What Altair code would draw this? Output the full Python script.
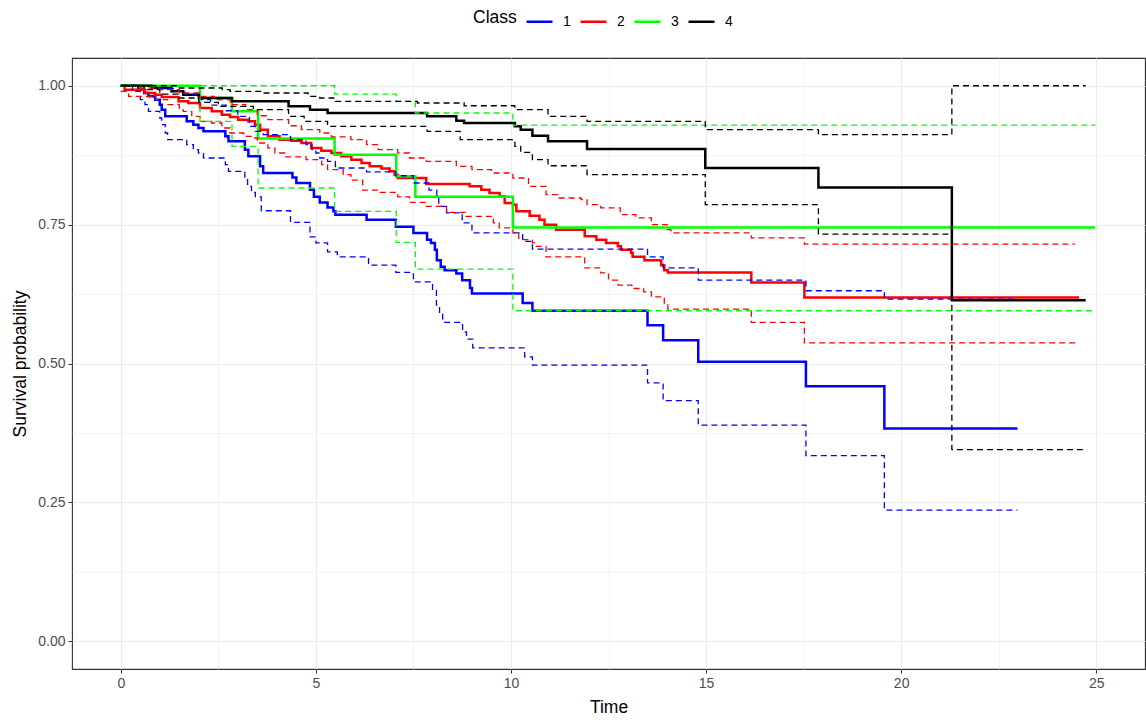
import altair as alt
import pandas as pd

CLASSES = ["1", "2", "3", "4"]
COLORS = ["#0000FF", "#FF0000", "#00FF00", "#000000"]

# ---- Class 1 ----
c1_est_t = [0, 0.45, 0.6, 0.71, 0.88, 1.0, 1.05, 1.14, 1.69, 1.86, 1.99, 2.12, 2.68, 2.76, 3.18, 3.27,
            3.57, 3.65, 4.4, 4.5, 4.85, 4.95, 5.1, 5.3, 5.45, 5.5, 6.3, 7.05, 7.5, 7.85, 7.95, 8.05,
            8.1, 8.2, 8.3, 8.6, 8.75, 8.95, 9.0, 10.3, 10.55, 13.5, 13.9, 14.8, 17.56, 19.57, 22.98]
c1_est_s = [1.0, 0.993, 0.987, 0.981, 0.975, 0.966, 0.957, 0.945, 0.936, 0.930, 0.924, 0.918, 0.909, 0.900,
            0.885, 0.873, 0.855, 0.843, 0.835, 0.825, 0.813, 0.800, 0.790, 0.781, 0.774, 0.768, 0.759,
            0.746, 0.735, 0.723, 0.717, 0.705, 0.686, 0.674, 0.668, 0.662, 0.650, 0.636, 0.626, 0.609,
            0.595, 0.569, 0.542, 0.503, 0.459, 0.383, 0.383]
c1_lo_t = [0, 0.3, 0.5, 0.62, 0.71, 1.0, 1.05, 1.14, 1.2, 1.69, 1.86, 1.99, 2.12, 2.68, 2.76, 3.18, 3.25,
           3.35, 3.45, 3.6, 4.35, 4.85, 5.0, 5.3, 5.55, 6.35, 7.05, 7.5, 7.99, 8.09, 8.17, 8.25, 8.76,
           8.86, 9.02, 10.35, 10.55, 13.5, 13.9, 14.8, 17.56, 19.57, 22.98]
c1_lo_s = [1.0, 0.99, 0.975, 0.966, 0.954, 0.942, 0.930, 0.915, 0.903, 0.894, 0.885, 0.879, 0.870, 0.858,
           0.846, 0.831, 0.819, 0.808, 0.800, 0.775, 0.754, 0.728, 0.717, 0.701, 0.692, 0.677, 0.664,
           0.647, 0.632, 0.605, 0.589, 0.574, 0.557, 0.544, 0.528, 0.512, 0.497, 0.465, 0.433, 0.389,
           0.334, 0.236, 0.236]
c1_hi_t = [0, 1.0, 1.4, 1.65, 2.0, 2.3, 2.7, 3.0, 3.3, 3.45, 3.65, 4.35, 4.75, 4.9, 5.0, 5.1, 5.3, 5.5,
           6.3, 7.05, 7.5, 7.9, 8.1, 8.15, 8.35, 8.75, 9.0, 10.3, 10.55, 13.5, 13.9, 14.8, 17.56, 19.57, 22.98]
c1_hi_s = [1.0, 0.995, 0.99, 0.985, 0.975, 0.965, 0.955, 0.945, 0.927, 0.918, 0.912, 0.903, 0.894, 0.885,
           0.879, 0.870, 0.864, 0.852, 0.845, 0.838, 0.825, 0.812, 0.800, 0.783, 0.771, 0.753, 0.735,
           0.720, 0.706, 0.692, 0.672, 0.650, 0.631, 0.616, 0.616]

# ---- Class 2 ----
c2_est_t = [0, 0.1, 0.62, 0.88, 1.05, 1.48, 1.73, 2.03, 2.33, 2.59, 2.8, 3.01, 3.27, 3.44, 3.57, 3.77,
            4.07, 4.37, 4.63, 4.88, 5.14, 5.4, 5.65, 5.91, 6.17, 6.38, 6.68, 6.89, 7.02, 7.1, 7.83, 8.94,
            9.24, 9.45, 9.71, 9.84, 10.05, 10.14, 10.48, 10.73, 10.86, 11.16, 11.89, 12.19, 12.44, 12.74,
            12.82, 13.08, 13.12, 13.42, 13.85, 13.93, 14.02, 16.16, 17.52, 24.56]
c2_est_s = [1.0, 0.993, 0.987, 0.984, 0.980, 0.972, 0.969, 0.960, 0.954, 0.948, 0.944, 0.939, 0.936, 0.930,
            0.921, 0.909, 0.903, 0.901, 0.897, 0.888, 0.883, 0.879, 0.873, 0.867, 0.861, 0.855, 0.851,
            0.846, 0.840, 0.834, 0.823, 0.819, 0.813, 0.807, 0.801, 0.789, 0.786, 0.774, 0.766, 0.759,
            0.750, 0.741, 0.729, 0.723, 0.717, 0.711, 0.705, 0.699, 0.692, 0.686, 0.677, 0.668, 0.664,
            0.646, 0.619, 0.619]
c2_lo_t = [0, 0.2, 0.9, 1.2, 1.5, 1.6, 1.82, 2.03, 2.33, 2.59, 2.8, 3.15, 3.35, 3.5, 3.77, 3.95, 4.2, 4.75,
           5.15, 5.3, 5.7, 5.9, 6.2, 6.6, 7.1, 7.4, 7.83, 8.35, 8.85, 9.55, 9.7, 10.05, 10.2, 10.55, 10.65,
           10.9, 11.89, 12.3, 12.5, 12.75, 13.1, 13.4, 13.6, 13.93, 14.02, 16.16, 17.52, 24.56]
c2_lo_s = [0.990, 0.981, 0.975, 0.966, 0.960, 0.954, 0.945, 0.936, 0.933, 0.924, 0.915, 0.909, 0.906, 0.897,
           0.888, 0.879, 0.872, 0.867, 0.858, 0.849, 0.840, 0.830, 0.812, 0.808, 0.800, 0.790, 0.783,
           0.772, 0.765, 0.753, 0.744, 0.735, 0.723, 0.717, 0.711, 0.692, 0.672, 0.663, 0.650, 0.641,
           0.635, 0.629, 0.620, 0.608, 0.598, 0.574, 0.537, 0.537]
c2_hi_t = [0, 0.5, 1.0, 1.5, 2.0, 2.4, 2.8, 3.2, 3.5, 3.77, 4.3, 4.63, 5.1, 5.4, 5.9, 6.3, 6.6, 7.1, 7.4,
           7.83, 8.6, 9.0, 9.5, 10.05, 10.45, 10.9, 11.2, 11.8, 11.95, 12.3, 12.8, 13.2, 13.6, 14.0, 14.1,
           16.16, 17.52, 24.45]
c2_hi_s = [1.0, 0.996, 0.993, 0.987, 0.981, 0.975, 0.966, 0.957, 0.946, 0.939, 0.928, 0.921, 0.915, 0.908,
           0.903, 0.894, 0.885, 0.879, 0.870, 0.864, 0.855, 0.849, 0.843, 0.834, 0.819, 0.804, 0.798,
           0.795, 0.786, 0.780, 0.768, 0.762, 0.750, 0.741, 0.735, 0.726, 0.715, 0.715]

# ---- Class 3 ----
c3_est_t = [0, 2.03, 2.85, 3.52, 5.48, 7.06, 7.55, 10.05, 24.97]
c3_est_s = [1.0, 0.978, 0.954, 0.905, 0.876, 0.837, 0.800, 0.745, 0.745]
c3_lo_t = [0, 2.03, 2.85, 3.52, 5.48, 7.06, 7.55, 10.05, 24.97]
c3_lo_s = [1.0, 0.936, 0.891, 0.816, 0.774, 0.718, 0.670, 0.595, 0.595]
c3_hi_t = [0, 5.48, 7.06, 7.55, 10.05, 24.97]
c3_hi_s = [1.0, 0.985, 0.972, 0.951, 0.929, 0.929]

# ---- Class 4 ----
c4_est_t = [0, 0.8, 1.3, 1.6, 2.0, 2.85, 4.3, 4.85, 5.3, 7.85, 8.6, 8.8, 10.1, 10.25, 10.55, 10.95, 11.95,
            14.98, 17.88, 21.3, 24.73]
c4_est_s = [1.0, 0.996, 0.990, 0.984, 0.978, 0.972, 0.963, 0.957, 0.951, 0.945, 0.937, 0.933, 0.927, 0.921,
            0.910, 0.900, 0.886, 0.852, 0.817, 0.614, 0.614]
c4_lo_t = [0, 0.6, 1.0, 1.5, 2.0, 2.5, 3.4, 4.3, 4.7, 5.3, 7.85, 8.7, 10.1, 10.25, 10.55, 10.95, 11.95,
           14.98, 17.88, 21.3, 24.73]
c4_lo_s = [1.0, 0.993, 0.985, 0.978, 0.970, 0.963, 0.957, 0.945, 0.936, 0.927, 0.918, 0.903, 0.891, 0.880,
           0.867, 0.856, 0.840, 0.786, 0.733, 0.345, 0.345]
c4_hi_t = [0, 1.5, 2.6, 2.8, 3.6, 4.8, 5.1, 5.5, 7.6, 8.8, 10.1, 10.95, 11.95, 14.98, 17.88, 21.3, 24.73]
c4_hi_s = [1.0, 0.996, 0.993, 0.990, 0.987, 0.981, 0.978, 0.972, 0.969, 0.964, 0.957, 0.945, 0.936, 0.921,
           0.912, 1.0, 1.0]

X_TICKS = [0, 2.5, 5, 7.5, 10, 12.5, 15, 17.5, 20, 22.5, 25]
Y_TICKS = [0, 0.125, 0.25, 0.375, 0.5, 0.625, 0.75, 0.875, 1.0]

series = {
    ("1", "est"): (c1_est_t, c1_est_s), ("1", "lower"): (c1_lo_t, c1_lo_s), ("1", "upper"): (c1_hi_t, c1_hi_s),
    ("2", "est"): (c2_est_t, c2_est_s), ("2", "lower"): (c2_lo_t, c2_lo_s), ("2", "upper"): (c2_hi_t, c2_hi_s),
    ("3", "est"): (c3_est_t, c3_est_s), ("3", "lower"): (c3_lo_t, c3_lo_s), ("3", "upper"): (c3_hi_t, c3_hi_s),
    ("4", "est"): (c4_est_t, c4_est_s), ("4", "lower"): (c4_lo_t, c4_lo_s), ("4", "upper"): (c4_hi_t, c4_hi_s),
}

rows = []
for (cls, kind), (ts, ss) in series.items():
    assert len(ts) == len(ss), (cls, kind)
    for i, (t, s) in enumerate(zip(ts, ss)):
        rows.append({"time": t, "surv": s, "Class": cls, "kind": kind,
                     "series": f"{cls}-{kind}", "order": i})
df = pd.DataFrame(rows)
est_df = df[df["kind"] == "est"]
ci_df = df[df["kind"] != "est"]

color_scale = alt.Scale(domain=CLASSES, range=COLORS)

x_axis = alt.Axis(
    values=X_TICKS,
    labelExpr="datum.value % 5 === 0 ? '' + datum.value : ''",
    grid=True, gridColor="#EBEBEB",
    gridWidth={"condition": {"test": "datum.value % 5 === 0", "value": 1.1}, "value": 0.55},
    tickOpacity={"condition": {"test": "datum.value % 5 === 0", "value": 1}, "value": 0},
    tickColor="#333333", tickSize=4, domain=False,
    labelColor="#4D4D4D", labelFontSize=14, labelPadding=3,
    titleFontSize=17.5, titleFontWeight="normal", titleColor="#000000", titlePadding=8,
)
y_axis = alt.Axis(
    values=Y_TICKS,
    labelExpr="(datum.value * 4) % 1 === 0 ? format(datum.value, '.2f') : ''",
    grid=True, gridColor="#EBEBEB",
    gridWidth={"condition": {"test": "(datum.value * 4) % 1 === 0", "value": 1.1}, "value": 0.55},
    tickOpacity={"condition": {"test": "(datum.value * 4) % 1 === 0", "value": 1}, "value": 0},
    tickColor="#333333", tickSize=4, domain=False,
    labelColor="#4D4D4D", labelFontSize=14, labelPadding=3,
    titleFontSize=17.5, titleFontWeight="normal", titleColor="#000000", titlePadding=8,
)

x_enc = alt.X("time:Q", title="Time", axis=x_axis,
              scale=alt.Scale(domain=[-1.25, 26.25], nice=False, zero=False))
y_enc = alt.Y("surv:Q", title="Survival probability", axis=y_axis,
              scale=alt.Scale(domain=[-0.05, 1.05], nice=False, zero=False))

legend = alt.Legend(
    title="Class", orient="none", legendX=401, legendY=-51, direction="horizontal",
    titleOrient="left", titleFontSize=17.5, titleFontWeight="normal", titleColor="#000000",
    titleBaseline="middle", titlePadding=8,
    labelFontSize=14, labelColor="#000000", labelOffset=9, columnPadding=4,
    symbolType="stroke", symbolSize=676, symbolStrokeWidth=2.5,
)

solid = alt.Chart(est_df).mark_line(interpolate="step-after", strokeWidth=2.5).encode(
    x=x_enc, y=y_enc,
    color=alt.Color("Class:N", scale=color_scale, legend=legend),
    order="order:Q",
)
dashed = alt.Chart(ci_df).mark_line(interpolate="step-after", strokeWidth=1.3, strokeDash=[6, 4]).encode(
    x=x_enc, y=y_enc,
    color=alt.Color("Class:N", scale=color_scale, legend=None),
    detail="series:N",
    order="order:Q",
)

chart = alt.layer(solid, dashed).properties(
    width=1073, height=611,
    padding={"left": 72, "top": 58, "right": 1, "bottom": 53},
    autosize=alt.AutoSizeParams(type="none"),
).configure(font="Liberation Sans").configure_view(stroke="#333333", strokeWidth=1.1)

chart.save("out.html", embed_options={"renderer": "svg", "actions": False})
